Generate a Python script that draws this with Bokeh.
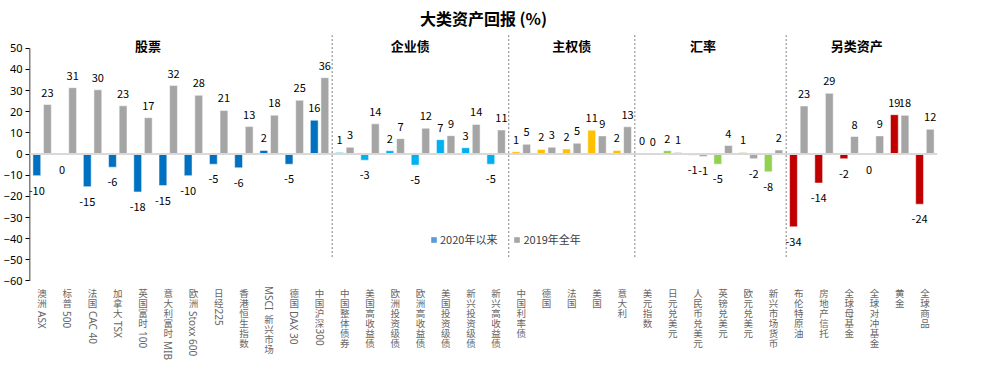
import math
from bokeh.plotting import figure
from bokeh.models import ColumnDataSource, FixedTicker, Range1d, Span, Legend, LegendItem, Label
from bokeh.transform import dodge
from bokeh.core.properties import value
from bokeh.embed import file_html
from bokeh.resources import INLINE

# ---------------- data ----------------
chart_title = "大类资产回报 (%)"
groups = ["股票", "企业债", "主权债", "汇率", "另类资产"]
group_sizes = [12, 7, 5, 6, 6]
group_colors = ["#0070C0", "#00B0F0", "#FFC000", "#92D050", "#C00000"]

categories = [
    "澳洲 ASX", "标普 500", "法国 CAC 40", "加拿大 TSX", "英国富时 100", "意大利富时 MIB",
    "欧洲 Stoxx 600", "日经225", "香港恒生指数", "MSCI 新兴市场", "德国 DAX 30", "中国沪深300",
    "中国整体债券", "美国高收益债", "欧洲投资级债", "欧洲高收益债", "美国投资级债", "新兴投资级债", "新兴高收益债",
    "中国利率债", "德国", "法国", "美国", "意大利",
    "美元指数", "日元兑美元", "人民币兑美元", "英镑兑美元", "欧元兑美元", "新兴市场货币",
    "布伦特原油", "房地产信托", "全球母基金", "全球对冲基金", "黄金", "全球商品",
]
ret_2020 = [
    -10.2, -0.3, -15.4, -6.2, -17.9, -14.9, -10.2, -4.8, -6.5, 1.7, -4.8, 16.0,
    0.8, -2.9, 1.6, -5.2, 6.8, 3.0, -4.8,
    1.1, 2.2, 2.4, 11.3, 1.7,
    0.3, 1.6, -0.6, -4.8, 0.8, -8.4,
    -34.4, -13.7, -2.2, -0.3, 18.6, -23.7,
]
ret_2019 = [
    23.4, 31.4, 30.4, 22.8, 17.2, 32.4, 27.8, 20.6, 13.0, 18.4, 25.4, 36.1,
    3.2, 14.3, 7.3, 12.2, 8.7, 14.0, 11.4,
    4.6, 3.2, 5.1, 8.6, 12.9,
    0.2, 0.8, -1.1, 4.0, -2.2, 1.9,
    22.7, 28.7, 8.3, 8.6, 18.3, 11.7,
]
series_names = ["2020年以来", "2019年全年"]
legend_colors = ["#5B9BD5", "#A5A5A5"]
gray = "#A5A5A5"
yticks = [-60, -50, -40, -30, -20, -10, 0, 10, 20, 30, 40, 50]

# ---------------- layout constants ----------------
W, H = 960, 368
px_per_unit = 2.115
top_px = 47.8      # px above top tick
bottom_px = 87.5   # px below bottom tick
y_top = yticks[-1] + top_px / px_per_unit
y_bottom = yticks[0] - bottom_px / px_per_unit
n = len(categories)
dodge_w = 0.21
bar_w = 0.31
CJK_FONT = "Noto Sans CJK SC"

p = figure(width=W, height=H, output_backend="svg", toolbar_location=None,
           x_range=Range1d(0, n), y_range=Range1d(y_bottom, y_top),
           x_axis_location=None, min_border_left=23, min_border_right=23,
           min_border_top=0, min_border_bottom=0)
p.title.visible = False
p.outline_line_color = None
p.grid.visible = False
p.background_fill_color = "white"

ax = p.yaxis[0]
ax.ticker = FixedTicker(ticks=yticks)
ax.axis_line_color = None
ax.major_tick_in = 0
ax.major_tick_out = 4
ax.major_tick_line_color = "black"
ax.minor_tick_line_color = None
ax.major_label_standoff = 3
ax.major_label_text_font = "Noto Sans"
ax.major_label_text_font_size = "11px"
ax.major_label_text_color = "black"

# y axis line from bottom tick to top tick
p.segment(x0=[0], y0=[yticks[0]], x1=[0], y1=[yticks[-1]], line_color="black", line_width=1.5)

# zero line
p.add_layout(Span(location=0, dimension="width", line_color="#D9D9D9", line_width=2))

# bars
xs = [i + 0.5 for i in range(n)]
colors_2020 = [c for c, s in zip(group_colors, group_sizes) for _ in range(s)]
src = ColumnDataSource(dict(x=xs, v20=ret_2020, v19=ret_2019, c20=colors_2020))
p.vbar(x=dodge("x", -dodge_w), top="v20", bottom=0, width=bar_w, source=src,
       fill_color="c20", line_color="white", line_alpha=0.5, line_width=1)
p.vbar(x=dodge("x", dodge_w), top="v19", bottom=0, width=bar_w, source=src,
       fill_color=gray, line_color="white", line_alpha=0.5, line_width=1)

# data labels
lx, ly, lt, lo = [], [], [], []
for shift, vals in ((-dodge_w, ret_2020), (dodge_w, ret_2019)):
    for x, v in zip(xs, vals):
        lx.append(x + shift)
        ly.append(v)
        lt.append(str(int(round(v))))
        lo.append(-12 if v >= 0 else 15)
p.text(x="x", y="y", text="t", y_offset="o",
       source=ColumnDataSource(dict(x=lx, y=ly, t=lt, o=lo)),
       text_align="center", text_baseline="middle",
       text_font=value(CJK_FONT), text_font_size="11px", text_color="black")

# group separators
bounds = []
acc = 0
for s in group_sizes[:-1]:
    acc += s
    bounds.append(acc)
p.segment(x0=bounds, y0=[-48.7] * len(bounds), x1=bounds, y1=[56.3] * len(bounds),
          line_color="#7F7F7F", line_width=1, line_dash="2 2")

# group titles
starts = [0] + bounds
nudges = [-1.3, -0.4, 0, -0.3, -0.2]
for g, st, s, nd in zip(groups, starts, group_sizes, nudges):
    p.add_layout(Label(x=st + s / 2 + nd, y=yticks[-1], y_offset=3, text=g,
                       text_align="center", text_baseline="middle",
                       text_font=CJK_FONT, text_font_size="13px",
                       text_font_style="bold", text_color="black"))

# chart title
p.add_layout(Label(x=n / 2, y=yticks[-1], y_offset=30, text=chart_title,
                   text_align="center", text_baseline="middle",
                   text_font=CJK_FONT, text_font_size="16px",
                   text_font_style="bold", text_color="black"))

# category labels (vertical, Excel-style stacked)
def is_cjk(ch):
    return ord(ch) > 0x2E80

def latin_width(s, fs=10.0):
    w = 0.0
    for ch in s:
        if ch == " ":
            w += 0.25
        elif ch in "I1":
            w += 0.5 if ch == "1" else 0.3
        elif ch.isupper():
            w += 0.62
        elif ch.isdigit():
            w += 0.55
        elif ch in "t":
            w += 0.34
        else:
            w += 0.52
    return w * fs

cjk = dict(x=[], y=[], t=[], o=[])
lat = dict(x=[], y=[], t=[], o=[])
label_top = 5.0
char_pitch = 10.0
for x, name in zip(xs, categories):
    off = label_top
    i = 0
    prev_cjk = False
    while i < len(name):
        ch = name[i]
        if is_cjk(ch):
            cjk["x"].append(x); cjk["y"].append(yticks[0]); cjk["t"].append(ch); cjk["o"].append(off)
            off += char_pitch
            prev_cjk = True
            i += 1
        else:
            j = i
            while j < len(name) and not is_cjk(name[j]):
                j += 1
            run = name[i:j]
            lead = len(run) - len(run.lstrip(" "))
            core = run.strip(" ")
            off += latin_width(" " * lead) + (2.5 if prev_cjk else 0)
            if core:
                lat["x"].append(x); lat["y"].append(yticks[0]); lat["t"].append(core); lat["o"].append(off)
                off += latin_width(core) + 2
            off += latin_width(" " * (len(run) - len(run.rstrip(" ")))) if core else 0
            prev_cjk = False
            i = j

p.text(x="x", y="y", text="t", y_offset="o", source=ColumnDataSource(cjk),
       text_align="center", text_baseline="top",
       text_font=value(CJK_FONT), text_font_size="9.5px", text_color="#666666")
p.text(x="x", y="y", text="t", y_offset="o", source=ColumnDataSource(lat),
       angle=-math.pi / 2, text_align="left", text_baseline="middle",
       text_font=value("Noto Sans"), text_font_size="10px", text_color="#666666")

# legend (proxy renderers hold a single NaN so nothing shows in the plot area)
nan = float("nan")
r1 = p.vbar(x=[nan], top=[nan], width=0.3, fill_color=legend_colors[0], line_color=None)
r2 = p.vbar(x=[nan], top=[nan], width=0.3, fill_color=legend_colors[1], line_color=None)
legend = Legend(items=[LegendItem(label=series_names[0], renderers=[r1]),
                       LegendItem(label=series_names[1], renderers=[r2])],
                location=(401, 121), orientation="horizontal",
                glyph_width=7, glyph_height=7, label_height=12, label_standoff=3,
                spacing=16, padding=0, margin=0, border_line_color=None,
                background_fill_alpha=0,
                label_text_font=CJK_FONT, label_text_font_size="11px",
                label_text_color="#404040")
p.add_layout(legend)

open("out.html", "w").write(file_html(p, INLINE))
